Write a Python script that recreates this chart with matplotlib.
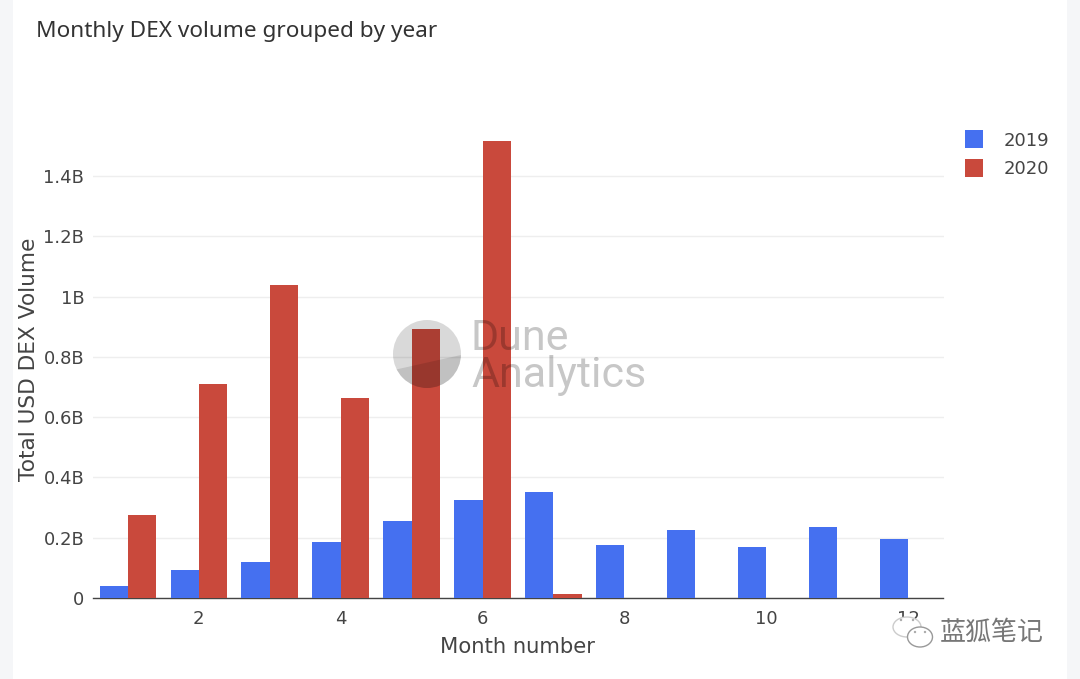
import matplotlib.pyplot as plt
import numpy as np
from matplotlib.patches import Circle, Ellipse, Polygon, Rectangle

plt.rcParams['font.family'] = ['DejaVu Sans']

months = np.arange(1, 13)
vol_2019 = [0.04, 0.094, 0.12, 0.186, 0.255, 0.325, 0.351, 0.176, 0.225, 0.169, 0.235, 0.196]
vol_2020 = [0.275, 0.711, 1.037, 0.663, 0.892, 1.515, 0.014, 0, 0, 0, 0, 0]
x_ticks = [2, 4, 6, 8, 10, 12]
y_ticks = [0, 0.2, 0.4, 0.6, 0.8, 1.0, 1.2, 1.4]
y_labels = ['0', '0.2B', '0.4B', '0.6B', '0.8B', '1B', '1.2B', '1.4B']

W, H = 1080, 679
fig = plt.figure(figsize=(W / 100, H / 100), dpi=100, facecolor='white')

# axes placed in pixels: left 92.5, right 943.5, top 125, bottom 598
ax = fig.add_axes([92.5 / W, (H - 598) / H, 851 / W, 473 / H])
bar_w = 0.4
ax.bar(months - bar_w / 2, vol_2019, bar_w, color='#4570f0', label='2019', zorder=3)
ax.bar(months + bar_w / 2, vol_2020, bar_w, color='#c9493c', label='2020', zorder=3)

ax.set_xlim(0.5, 12.5)
ax.set_ylim(0, 473 / 301.5)
ax.set_xticks(x_ticks)
ax.set_yticks(y_ticks)
ax.set_yticklabels(y_labels)
ax.tick_params(length=0, labelsize=13, labelcolor='#444444', pad=6)
ax.tick_params(axis='x', pad=8.5)
ax.grid(axis='y', color='#eeeeee', lw=1, zorder=0)
ax.set_axisbelow(True)
for s in ['top', 'right', 'left']:
    ax.spines[s].set_visible(False)
ax.spines['bottom'].set_color('#444444')
ax.spines['bottom'].set_linewidth(1)

# overlay in pixel coordinates for labels, page strips, legend, watermarks
ov = fig.add_axes([0, 0, 1, 1], facecolor='none')
ov.set_xlim(0, W)
ov.set_ylim(H, 0)
ov.axis('off')

ov.text(518, 647, 'Month number', fontsize=15.2, color='#444444', ha='center', va='center')
ov.text(29, 359, 'Total USD DEX Volume', fontsize=15.6, color='#444444', ha='center',
        va='center', rotation=90)
ov.text(36, 31, 'Monthly DEX volume grouped by year', fontsize=16.25, color='#333333',
        va='center', family=['Noto Sans', 'DejaVu Sans'])

ov.add_patch(Rectangle((0, 0), 13, H, color='#f5f6f8', lw=0))
ov.add_patch(Rectangle((1067, 0), 13, H, color='#f5f6f8', lw=0))

# legend
ov.add_patch(Rectangle((965, 130), 18, 18, color='#4570f0', lw=0))
ov.add_patch(Rectangle((965, 159), 18, 18, color='#c9493c', lw=0))
ov.text(1004, 140.5, '2019', fontsize=13, color='#444444', va='center')
ov.text(1004, 169.5, '2020', fontsize=13, color='#444444', va='center')

# Dune watermark
disc = Circle((427, 354), 34, color='#000000', alpha=0.15, lw=0)
ov.add_patch(disc)
lower = Circle((427, 354), 34, color='#000000', alpha=0.11, lw=0)
ov.add_patch(lower)
lower.set_clip_path(Polygon([(385, 372), (470, 353), (470, 395), (385, 395)],
                            transform=ov.transData))
ov.text(470, 338, 'Dune', fontsize=31, color='#000000', alpha=0.22, va='center',
        family=['Roboto', 'DejaVu Sans'])
ov.text(471, 376, 'Analytics', fontsize=31, color='#000000', alpha=0.22, va='center',
        family=['Roboto', 'DejaVu Sans'])

# WeChat mark over the corner, it hides the lower part of the 12 label
ov.add_patch(Ellipse((907, 627), 28, 20, fc='white', ec='#cccccc', lw=1))
ov.add_patch(Ellipse((920, 637), 25, 20, fc='white', ec='#999999', lw=1))
for ex, ey in [(901, 620), (913, 620), (915, 632), (925, 632)]:
    ov.add_patch(Circle((ex, ey), 1.2, color='#aaaaaa', lw=0))
ov.text(940, 632, '蓝狐笔记', fontsize=18.7, color='#777777', va='center',
        family=['Noto Sans CJK SC', 'DejaVu Sans'])

fig.savefig('out.png', dpi=100)
